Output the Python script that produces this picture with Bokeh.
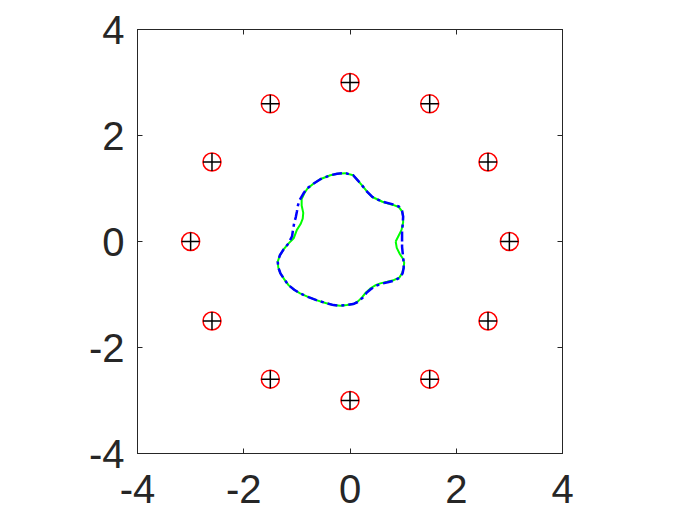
from bokeh.plotting import figure
from bokeh.models import Range1d, LinearAxis, FixedTicker, CustomLabelingPolicy
from bokeh.embed import file_html
from bokeh.resources import INLINE

# 12 source points on a circle of radius 3
pt_x = [3.0, 2.598, 1.5, 0.0, -1.5, -2.598, -3.0, -2.598, -1.5, 0.0, 1.5, 2.598]
pt_y = [0.0, 1.5, 2.598, 3.0, 2.598, 1.5, 0.0, -1.5, -2.598, -3.0, -2.598, -1.5]

# reconstructed boundary (green, solid)
green_x = [0.86, 0.91, 0.97, 1.00, 1.00, 0.98, 0.92, 0.81, 0.61, 0.42, 0.33, 0.25, 0.15, 0.06,
           -0.09, -0.24, -0.37, -0.55, -0.69, -0.80, -0.86, -0.91, -0.91, -0.88, -0.89, -0.93,
           -1.00, -1.06, -1.16, -1.25, -1.32, -1.36, -1.35, -1.31, -1.24, -1.16, -1.05, -0.94,
           -0.78, -0.62, -0.46, -0.31, -0.18, -0.06, 0.06, 0.15, 0.23, 0.30, 0.38, 0.47, 0.57,
           0.70, 0.82, 0.93, 0.98, 1.01, 1.02, 1.00, 0.94, 0.88, 0.86]
green_y = [0.0, 0.10, 0.22, 0.36, 0.47, 0.57, 0.65, 0.69, 0.75, 0.84, 0.93, 1.03, 1.15, 1.25,
           1.29, 1.28, 1.25, 1.18, 1.09, 1.00, 0.91, 0.80, 0.68, 0.54, 0.43, 0.33,
           0.22, 0.06, -0.04, -0.15, -0.26, -0.38, -0.49, -0.60, -0.71, -0.82, -0.91, -0.98,
           -1.05, -1.11, -1.16, -1.20, -1.21, -1.20, -1.18, -1.13, -1.05, -0.96, -0.89, -0.83, -0.79,
           -0.76, -0.73, -0.68, -0.60, -0.50, -0.40, -0.33, -0.24, -0.12, 0.0]

# true boundary (blue, dash-dot)
blue_x = [0.98, 0.98, 0.98, 0.99, 1.00, 0.98, 0.92, 0.81, 0.61, 0.42, 0.33, 0.25, 0.15, 0.06,
          -0.09, -0.24, -0.37, -0.55, -0.69, -0.81, -0.88, -0.95, -0.98, -1.00, -1.02, -1.05,
          -1.07, -1.09, -1.16, -1.25, -1.32, -1.36, -1.35, -1.31, -1.24, -1.16, -1.05, -0.94,
          -0.78, -0.62, -0.46, -0.31, -0.18, -0.06, 0.06, 0.15, 0.24, 0.31, 0.39, 0.48, 0.58,
          0.71, 0.83, 0.94, 0.99, 1.01, 1.01, 1.00, 0.99, 0.98, 0.98]
blue_y = [0.0, 0.10, 0.20, 0.30, 0.47, 0.58, 0.66, 0.70, 0.75, 0.84, 0.93, 1.03, 1.15, 1.25,
          1.29, 1.28, 1.25, 1.18, 1.09, 1.00, 0.90, 0.78, 0.68, 0.56, 0.46, 0.35,
          0.24, 0.10, -0.04, -0.15, -0.26, -0.38, -0.49, -0.60, -0.71, -0.82, -0.91, -0.98,
          -1.05, -1.11, -1.16, -1.20, -1.21, -1.20, -1.18, -1.14, -1.06, -0.97, -0.90, -0.84, -0.80,
          -0.77, -0.74, -0.68, -0.60, -0.50, -0.40, -0.30, -0.20, -0.10, 0.0]

tick_vals = [-4, -2, 0, 2, 4]
tick_labels = ["-4", "-2", "0", "2", "4"]

FONT = "Liberation Sans"
FS = "40px"
AX = "#262626"

p = figure(width=700, height=525, output_backend="svg", toolbar_location=None,
           x_range=Range1d(-4, 4), y_range=Range1d(-4, 4),
           min_border_left=137, min_border_right=138, min_border_top=29, min_border_bottom=72)
p.grid.visible = False
p.outline_line_color = AX
p.outline_line_width = 1
p.background_fill_color = "white"
p.border_fill_color = "white"

overrides = {v: s for v, s in zip(tick_vals, tick_labels)}
for ax in [p.xaxis[0], p.yaxis[0]]:
    ax.ticker = FixedTicker(ticks=tick_vals)
    ax.major_label_overrides = overrides
    ax.major_tick_in = 5
    ax.major_tick_out = 0
    ax.minor_tick_in = 0
    ax.minor_tick_out = 0
    ax.axis_line_color = AX
    ax.major_tick_line_color = AX
    ax.major_label_text_font = FONT
    ax.major_label_text_font_size = FS
    ax.major_label_text_color = AX
p.xaxis[0].major_label_standoff = 21
p.yaxis[0].major_label_standoff = 13

hide_all = CustomLabelingPolicy(code="""
    const keep = [];
    for (const i of indices) keep.push(i);
    for (const i of keep) indices.unset(i);
    return indices;
""")
for loc in ["right", "above"]:
    a = LinearAxis(ticker=FixedTicker(ticks=tick_vals), major_tick_in=5, major_tick_out=0,
                   minor_tick_in=0, minor_tick_out=0, axis_line_color=AX,
                   major_tick_line_color=AX, major_label_policy=hide_all,
                   major_label_standoff=0)
    p.add_layout(a, loc)

p.line(green_x, green_y, line_color="#00ff00", line_width=2)
p.line(blue_x, blue_y, line_color="#0000ff", line_width=2.5, line_dash="10 4 3 4")

p.scatter(pt_x, pt_y, marker="circle", size=18, fill_color=None, line_color="#ff0000", line_width=1.5)
p.scatter(pt_x, pt_y, marker="cross", size=18, line_color="black", line_width=1.5)

open("out.html", "w").write(file_html(p, INLINE))
